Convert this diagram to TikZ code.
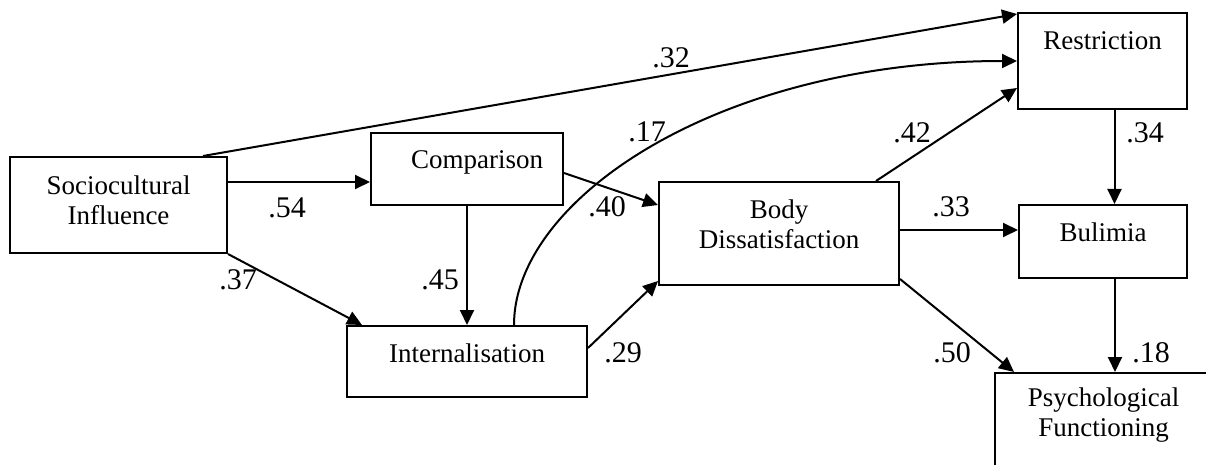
\documentclass[tikz,border=0pt]{standalone}
\usepackage{fontspec}
\setmainfont{Liberation Serif}
\usetikzlibrary{arrows.meta,positioning}

\begin{document}
\begin{tikzpicture}[x=0.5pt,y=-0.5pt,line width=1pt,
  >={Triangle[length=7.5pt,width=7pt]},
  var/.style={draw,inner sep=0pt,align=center,font=\fontsize{13.5}{15}\selectfont},
  coef/.style={inner sep=0pt,font=\fontsize{15}{18}\selectfont}]
  \clip (0,0) rectangle (1206,465);
  % variables
  \node[var,minimum width=108.5pt,minimum height=48pt,text depth=5pt] (soc) at (118.5,205) {Sociocultural\\Influence};
  \node[var,minimum width=96pt,minimum height=36pt,text height=9pt,text depth=9pt] (comp) at (467,169) {\hspace*{10pt}Comparison};
  \node[var,minimum width=120pt,minimum height=35.5pt,text height=9pt,text depth=8.5pt] (int) at (467,361.5) {Internalisation};
  \node[var,minimum width=120pt,minimum height=51.5pt,text depth=9pt] (body) at (779,233.5) {Body\\Dissatisfaction};
  \node[var,minimum width=84.5pt,minimum height=48pt,text height=9pt,text depth=20pt] (rest) at (1102.5,61) {Restriction};
  \node[var,minimum width=84pt,minimum height=36.5pt,text height=9pt,text depth=8.5pt] (bul) at (1103,241.5) {Bulimia};
  \node[var,minimum width=108.5pt,minimum height=48.5pt,text depth=9.5pt] (psy) at (1103.5,421.5) {Psychological\\Functioning};
  % paths
  \draw[->] ([yshift=11.5pt]soc.east) -- ([yshift=11.5pt]soc.east -| comp.west);
  \draw[->] ([xshift=-12.5pt]soc.north east) -- ([yshift=-1pt]rest.north west);
  \draw[->] (soc.south east) -- ([xshift=8pt]int.north west);
  \draw[->] (comp.south) -- (int.north);
  \draw[->] ([yshift=-2pt]comp.east) -- ([yshift=14.25pt]body.west);
  \draw[->] ([yshift=6.75pt]int.east) -- ([yshift=2.5pt]body.south west);
  \draw[->] ([xshift=23.5pt]int.north) .. controls +(0,-126) and +(-298,0) .. (rest.west);
  \draw[->] ([xshift=-12pt]body.north east) -- ([yshift=11pt]rest.south west);
  \draw[->] ([yshift=1.75pt]body.east) -- ([yshift=1.75pt]body.east -| bul.west);
  \draw[->] ([xshift=6pt]rest.south) -- ([xshift=6pt]rest.south |- bul.north);
  \draw[->] ([xshift=6pt]bul.south) -- ([xshift=6pt]bul.south |- psy.north);
  \draw[->] ([yshift=3.5pt]body.south east) -- ([xshift=10pt]psy.north west);
  % coefficients
  \node[coef] (c32) at (671,58) {.32};
  \node[coef] (c17) at (647,132) {.17};
  \node[coef] (c42) at (912,133) {.42};
  \node[coef] (c34) at (1145,133) {.34};
  \node[coef] (c54) at (287,208) {.54};
  \node[coef] (c37) at (238,280) {.37};
  \node[coef] (c45) at (440,280) {.45};
  \node[coef] (c40) at (607,207) {.40};
  \node[coef] (c29) at (623,353) {.29};
  \node[coef] (c33) at (951,207) {.33};
  \node[coef] (c50) at (952,353) {.50};
  \node[coef] (c18) at (1151,353) {.18};
\end{tikzpicture}
\end{document}
